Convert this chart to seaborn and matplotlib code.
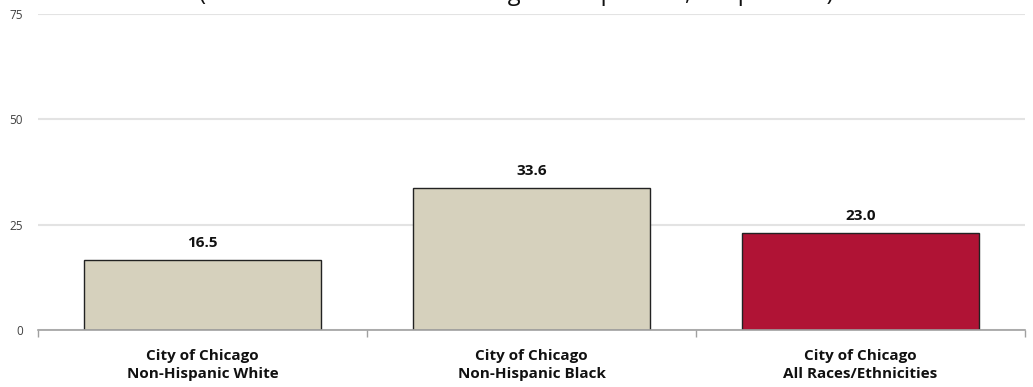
import matplotlib
matplotlib.use("Agg")
import matplotlib.pyplot as plt
import seaborn as sns

sns.set_theme(style="white")
plt.rcParams["font.family"] = ["Open Sans", "DejaVu Sans"]

# data
groups = ["City of Chicago\nNon-Hispanic White",
          "City of Chicago\nNon-Hispanic Black",
          "City of Chicago\nAll Races/Ethnicities"]
rates = [16.5, 33.6, 23.0]
bar_colors = ["#D6D1BD", "#D6D1BD", "#B01335"]
y_ticks = [0, 25, 50, 75]
title = "(Heart disease deaths among adults per 100,000 persons)"

fig = plt.figure(figsize=(10.33, 3.87), dpi=100)
ax = fig.add_axes([0.0368, 0.1473, 0.9555, 0.8165])

sns.barplot(x=groups, y=rates, hue=groups, palette=bar_colors, legend=False,
            width=0.72, saturation=1, edgecolor="#222222", linewidth=1.0, ax=ax)

ax.set_xlim(-0.5, 2.5)
ax.set_ylim(0, 75)
ax.set_yticks(y_ticks)
ax.set_yticklabels([str(t) for t in y_ticks], fontsize=8.5, color="#404040")
ax.tick_params(axis="y", length=0, pad=11)
ax.yaxis.grid(True, color="#E3E3E3", linewidth=1.5)
ax.set_axisbelow(True)

# category separators on x axis
ax.set_xticks([-0.5, 0.5, 1.5, 2.5], minor=True)
ax.tick_params(axis="x", which="minor", length=5, width=1, color="#A0A0A0",
               direction="out", bottom=True)
ax.tick_params(axis="x", which="major", length=0, pad=14)
for lbl in ax.get_xticklabels():
    lbl.set_fontweight("bold")
    lbl.set_fontsize(11)
    lbl.set_color("#111111")
    lbl.set_linespacing(1.32)

for s in ["top", "right", "left"]:
    ax.spines[s].set_visible(False)
ax.spines["bottom"].set_color("#A0A0A0")
ax.spines["bottom"].set_linewidth(1.2)
ax.set_xlabel("")
ax.set_ylabel("")

for i, v in enumerate(rates):
    ax.annotate(f"{v:.1f}", (i, v), xytext=(0, 7.5), textcoords="offset points",
                ha="center", va="bottom", fontsize=11, fontweight="bold",
                color="#111111")

# title sits mostly above the canvas, as in the source image
fig.text(0.5, 1.0, title, ha="center", va="baseline", fontsize=17,
         color="#111111")

fig.savefig("out.png", dpi=100)
